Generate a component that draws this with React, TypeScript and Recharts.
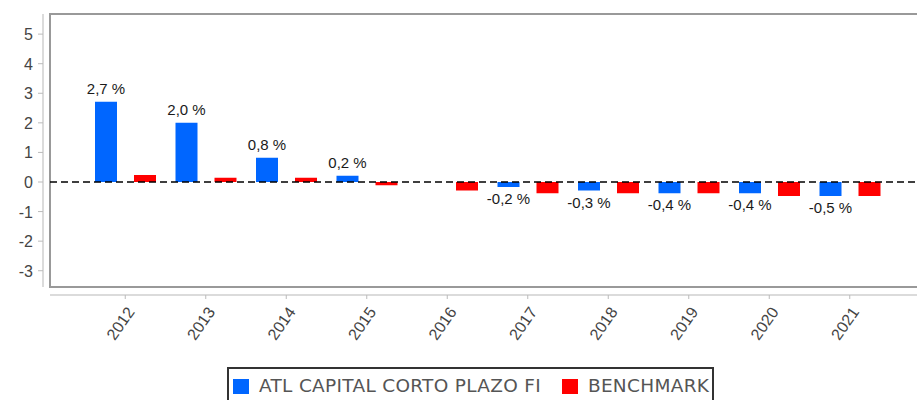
import { BarChart, Bar, XAxis, YAxis, ReferenceLine, LabelList, Customized } from "recharts";

const years = ["2012", "2013", "2014", "2015", "2016", "2017", "2018", "2019", "2020", "2021"];
const fundValues = [2.71, 2.0, 0.82, 0.21, null, -0.17, -0.29, -0.38, -0.38, -0.47];
const benchmarkValues = [0.24, 0.14, 0.14, -0.11, -0.29, -0.38, -0.38, -0.38, -0.47, -0.47];
const yTicks = [-3, -2, -1, 0, 1, 2, 3, 4, 5];
const seriesNames = ["ATL CAPITAL CORTO PLAZO FI", "BENCHMARK"];
const seriesColors = ["#0066ff", "#ff0000"];

const data = years.map((year, i) => ({
  year,
  fund: fundValues[i],
  benchmark: benchmarkValues[i],
}));

// plot frame (pixels), the axes sit a few px outside it
const PLOT = { left: 50, top: 14, right: 925, bottom: 287 };
const Y_AXIS_X = 43;
const X_AXIS_Y = 295;
const FONT = "'Liberation Sans', Arial, sans-serif";

const fmt = (v: number) => `${v.toFixed(1).replace(".", ",")} %`;

function Frame() {
  return (
    <g>
      <line x1={Y_AXIS_X} y1={PLOT.top} x2={Y_AXIS_X} y2={PLOT.bottom} stroke="#cfcfcf" strokeWidth={1.5} />
      <line x1={PLOT.left} y1={X_AXIS_Y} x2={PLOT.right} y2={X_AXIS_Y} stroke="#cfcfcf" strokeWidth={1.5} />
      <rect
        x={PLOT.left}
        y={PLOT.top}
        width={PLOT.right - PLOT.left}
        height={PLOT.bottom - PLOT.top}
        fill="none"
        stroke="#999"
        strokeWidth={2}
      />
    </g>
  );
}

function YTick(props: any) {
  const { y, payload } = props;
  return (
    <g>
      <line x1={Y_AXIS_X - 5} x2={Y_AXIS_X} y1={y} y2={y} stroke="#bbb" />
      <text x={33} y={y} dy={6} textAnchor="end" fontSize={16} fill="#444" fontFamily={FONT}>
        {payload.value}
      </text>
    </g>
  );
}

function XTick(props: any) {
  const { x, payload } = props;
  return (
    <g>
      <line x1={x} x2={x} y1={X_AXIS_Y} y2={X_AXIS_Y + 4} stroke="#bbb" />
      <text
        transform={`translate(${x + 10},${X_AXIS_Y + 17}) rotate(-55)`}
        textAnchor="end"
        fontSize={16}
        fill="#444"
        fontFamily={FONT}
      >
        {payload.value}
      </text>
    </g>
  );
}

function ValueLabel(props: any) {
  const { value } = props;
  if (value == null) return null;
  const x = Number(props.x);
  const y = Number(props.y);
  const w = Number(props.width);
  const h = Number(props.height);
  const top = Math.min(y, y + h);
  const bottom = Math.max(y, y + h);
  const ty = value >= 0 ? top - 8 : bottom + 17;
  return (
    <text x={x + w / 2} y={ty} textAnchor="middle" fontSize={15} fill="#1a1a1a" fontFamily={FONT}>
      {fmt(value)}
    </text>
  );
}

export default function App() {
  return (
    <div style={{ position: "fixed", left: 0, top: 0, width: 917, height: 400, overflow: "hidden", background: "#fff" }}>
      <BarChart
        width={PLOT.right + 15}
        height={400}
        data={data}
        margin={{ top: PLOT.top, right: 15, bottom: 0, left: 0 }}
        barSize={22}
        barGap={17}
      >
        <Customized component={<Frame />} />
        <XAxis
          dataKey="year"
          height={400 - PLOT.bottom}
          padding={{ left: 35, right: 35 }}
          axisLine={false}
          tickLine={false}
          interval={0}
          tick={<XTick />}
        />
        <YAxis
          width={PLOT.left}
          domain={[-3.55, 5.68]}
          ticks={yTicks}
          allowDataOverflow
          axisLine={false}
          tickLine={false}
          interval={0}
          tick={<YTick />}
        />
        <Bar dataKey="fund" name={seriesNames[0]} fill={seriesColors[0]} isAnimationActive={false}>
          <LabelList dataKey="fund" content={<ValueLabel />} />
        </Bar>
        <Bar dataKey="benchmark" name={seriesNames[1]} fill={seriesColors[1]} isAnimationActive={false} />
        <ReferenceLine y={0} stroke="#000" strokeWidth={1.5} strokeDasharray="7 4" />
      </BarChart>
      <div
        style={{
          position: "absolute",
          left: 227,
          top: 367,
          width: 487,
          height: 40,
          border: "2px solid #333",
          display: "flex",
          alignItems: "flex-start",
          paddingTop: 9,
          paddingLeft: 4,
          boxSizing: "border-box",
          fontFamily: "'DejaVu Sans', sans-serif",
          fontSize: 18.5,
          letterSpacing: 0.3,
          color: "#555",
        }}
      >
        {seriesNames.map((name, i) => (
          <div key={name} style={{ display: "flex", alignItems: "center", marginRight: 21, height: 16 }}>
            <span style={{ width: 16, height: 15, background: seriesColors[i], marginRight: 10, display: "inline-block" }} />
            <span style={{ whiteSpace: "nowrap", lineHeight: "16px" }}>{name}</span>
          </div>
        ))}
      </div>
    </div>
  );
}
